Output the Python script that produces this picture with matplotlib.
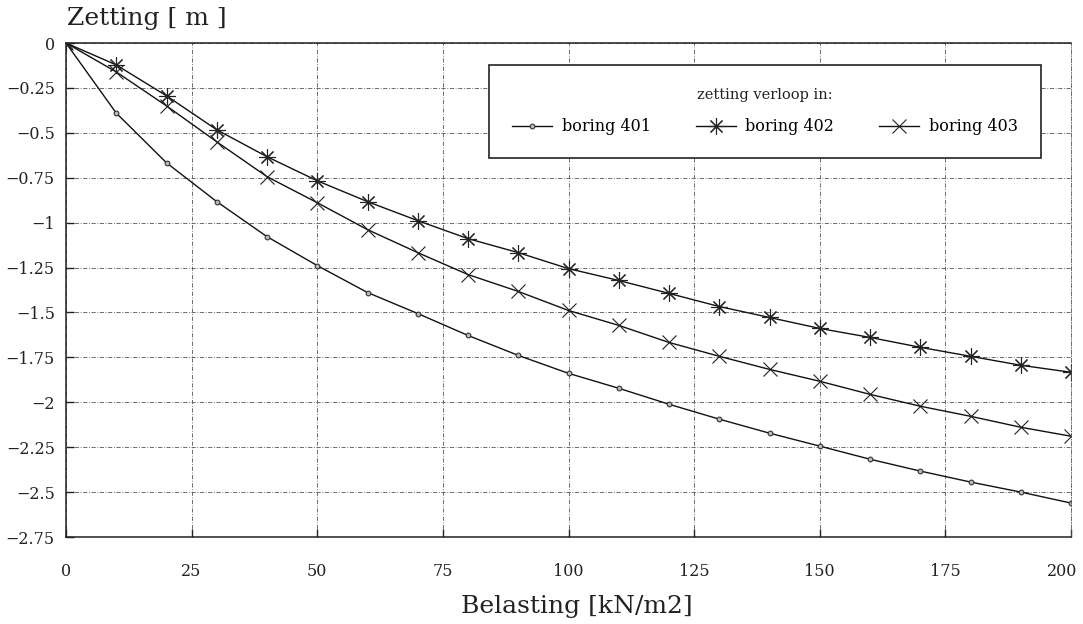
import matplotlib
matplotlib.use("Agg")
import matplotlib.pyplot as plt
from matplotlib.transforms import ScaledTranslation

# Data
belasting = [0, 10, 20, 30, 40, 50, 60, 70, 80, 90, 100, 110, 120, 130, 140, 150, 160, 170, 180, 190, 200]
boring_401 = [0, -0.39, -0.667, -0.883, -1.078, -1.239, -1.389, -1.506, -1.628, -1.739, -1.839,
              -1.922, -2.011, -2.094, -2.172, -2.244, -2.317, -2.383, -2.444, -2.50, -2.561]
boring_402 = [0, -0.122, -0.294, -0.483, -0.633, -0.767, -0.883, -0.989, -1.089, -1.167, -1.256,
              -1.322, -1.394, -1.467, -1.528, -1.589, -1.639, -1.694, -1.744, -1.794, -1.833]
boring_403 = [0, -0.161, -0.35, -0.55, -0.744, -0.889, -1.039, -1.167, -1.289, -1.383, -1.489,
              -1.572, -1.667, -1.744, -1.817, -1.883, -1.956, -2.022, -2.078, -2.139, -2.189]
series_labels = ["boring 401", "boring 402", "boring 403"]

x_ticks = [0, 25, 50, 75, 100, 125, 150, 175, 200]
y_ticks = [0, -0.25, -0.5, -0.75, -1, -1.25, -1.5, -1.75, -2, -2.25, -2.5, -2.75]
y_ticklabels = ["0", "\u22120.25", "\u22120.5", "\u22120.75", "\u22121", "\u22121.25", "\u22121.5",
                "\u22121.75", "\u22122", "\u22122.25", "\u22122.5", "\u22122.75"]

plt.rcParams['font.family'] = ['DejaVu Serif']

fig = plt.figure(figsize=(10.83, 6.24), dpi=100)
ax = fig.add_axes([66 / 1083, 1 - 537 / 624, (1071 - 66) / 1083, (537 - 43) / 624])

ax.plot(belasting, boring_401, color='#111111', lw=1.0, marker='o', ms=3.4, mfc='#bbbbbb', mec='#333333',
        mew=0.8, label=series_labels[0])
ax.plot(belasting, boring_402, color='#111111', lw=1.0, marker=(8, 2, 0), ms=12, mec='#222222',
        mew=0.8, label=series_labels[1])
ax.plot(belasting, boring_403, color='#111111', lw=1.0, marker='x', ms=10, mec='#222222',
        mew=0.8, label=series_labels[2])

ax.set_xlim(0, 200)
ax.set_ylim(-2.75, 0)
ax.set_xticks(x_ticks)
ax.set_xticklabels([str(v) for v in x_ticks])
ax.set_yticks(y_ticks)
ax.set_yticklabels(y_ticklabels)
ax.tick_params(axis='both', direction='in', length=6, width=1, labelsize=11.5, colors='#222222')
ax.tick_params(axis='x', pad=19)
ax.tick_params(axis='y', pad=8)

# keep the last x tick label inside the figure
last = ax.get_xticklabels()[-1]
last.set_transform(last.get_transform() + ScaledTranslation(-9 / 100, 0, fig.dpi_scale_trans))

ax.grid(True, color='#555555', lw=0.6, linestyle=(0, (5, 2, 1, 2)))
for s in ['left', 'bottom', 'top']:
    ax.spines[s].set_linewidth(1.1)
    ax.spines[s].set_color('#222222')
ax.spines['right'].set_linewidth(0.6)
ax.spines['right'].set_color('#555555')
ax.spines['right'].set_linestyle((0, (5, 2, 1, 2)))

fig.text(67 / 1083, 1 - 18 / 624, "Zetting [ m ]", fontsize=18, ha='left', va='center', color='#222222')
fig.text(577 / 1083, 1 - 606 / 624, "Belasting [kN/m2]", fontsize=18, ha='center', va='center', color='#222222')

leg = ax.legend(loc='upper left', bbox_to_anchor=((489 - 66) / 1005, 1 - (155 - 43) / 494,
                                                   (1041 - 489) / 1005, (155 - 65) / 494),
                mode='expand', ncol=3, title="zetting verloop in:", fontsize=11.5, title_fontsize=10.5,
                frameon=True, fancybox=False, edgecolor='#222222', framealpha=1, handlelength=2.5,
                handletextpad=0.6, columnspacing=1.2, borderpad=1.45, labelspacing=1.0,
                borderaxespad=0)
leg.get_frame().set_linewidth(1.2)
leg.get_title().set_color('#222222')

fig.savefig("out.png", dpi=100, facecolor='white')
